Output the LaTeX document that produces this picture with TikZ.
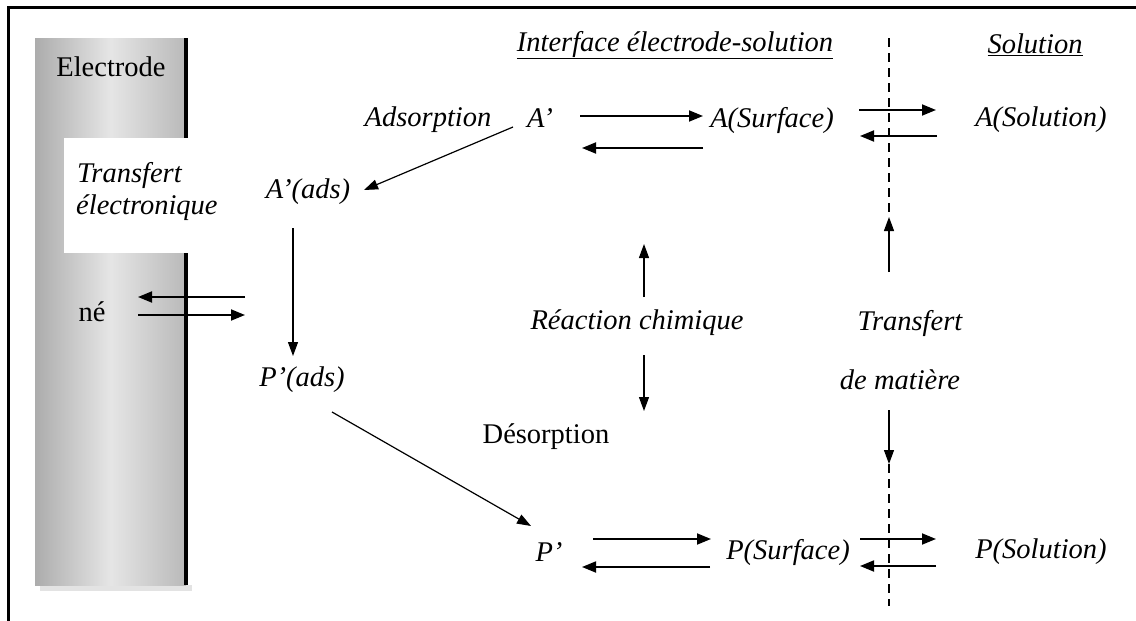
\documentclass[tikz,border=0pt]{standalone}
\usepackage{fontspec}
\setmainfont{Liberation Serif}
\usetikzlibrary{arrows.meta}
\begin{document}
\begin{tikzpicture}[x=1pt,y=-1pt,
  txt/.style={font=\fontsize{28.5}{32}\selectfont\itshape, inner sep=0pt},
  rtxt/.style={font=\fontsize{28.5}{32}\selectfont, inner sep=0pt},
  arr/.style={line width=1.8pt, -{Triangle[length=14pt,width=11pt]}},
  thinarr/.style={line width=1.2pt, -{Triangle[length=14pt,width=10pt]}},
  dashline/.style={line width=1.6pt, dash pattern=on 9pt off 6pt}
]
\useasboundingbox (0,0) rectangle (1136,621);
\fill[white] (0,0) rectangle (1136,621);
% outer frame
\draw[line width=3pt] (8,621) -- (8,7) -- (1137,7);
% electrode
\fill[gray!22] (40,585) rectangle (192,591);
\shade[left color=gray!65, right color=gray!55, middle color=gray!20] (35,38) rectangle (186,585);
\draw[line width=4pt] (186,38) -- (186,585);
\fill[white] (64,138) rectangle (252,253);

% texts
\node[rtxt] (electrode) at (111,67) {Electrode};
\node[txt, anchor=west] (tr1) at (77,175) {Transfert};
\node[txt, anchor=west] (tr2) at (76,208) {électronique};
\node[rtxt] (ne) at (92,312) {né};

\node[txt] (hint) at (675,45) {\underline{Interface électrode-solution}};
\node[txt] (hsol) at (1035,45) {\underline{Solution}};

\node[txt] (ads) at (428,120) {Adsorption};
\node[txt] (Ap) at (540,118) {A’};
\node[txt] (Asurf) at (772,120) {A(Surface)};
\node[txt] (Asol) at (1041,120) {A(Solution)};
\node[txt] (Aads) at (308,192) {A’(ads)};
\node[txt] (Pads) at (302,380) {P’(ads)};
\node[txt] (Pp) at (549,552) {P’};
\node[txt] (Psurf) at (788,552) {P(Surface)};
\node[txt] (Psol) at (1041,552) {P(Solution)};
\node[txt] (reac) at (637,323) {Réaction chimique};
\node[rtxt] (desorp) at (546,437) {Désorption};
\node[txt] (tm1) at (910,323) {Transfert};
\node[txt] (tm2) at (900,380) {de matière};

% coordinates
\coordinate (ne1) at (245,297); \coordinate (ne2) at (138,297);
\coordinate (ne3) at (138,315); \coordinate (ne4) at (245,315);
\coordinate (a1) at (580,116); \coordinate (a2) at (703,116);
\coordinate (a3) at (703,148); \coordinate (a4) at (582,148);
\coordinate (b1) at (859,110); \coordinate (b2) at (936,110);
\coordinate (b3) at (937,136); \coordinate (b4) at (860,136);
\coordinate (p1) at (593,539); \coordinate (p2) at (711,539);
\coordinate (p3) at (710,567); \coordinate (p4) at (582,567);
\coordinate (q1) at (860,539); \coordinate (q2) at (936,539);
\coordinate (q3) at (936,566); \coordinate (q4) at (860,566);
\coordinate (d1) at (513,127); \coordinate (d2) at (364,190);
\coordinate (v1) at (293,228); \coordinate (v2) at (293,356);
\coordinate (g1) at (332,412); \coordinate (g2) at (531,526);
\coordinate (r1) at (644,297); \coordinate (r2) at (644,244);
\coordinate (r3) at (644,355); \coordinate (r4) at (644,411);
\coordinate (t1) at (889,272); \coordinate (t2) at (889,217);
\coordinate (t3) at (889,410); \coordinate (t4) at (889,464);
\coordinate (s1) at (889,38); \coordinate (s2) at (889,215);
\coordinate (s3) at (889,464); \coordinate (s4) at (889,606);

% dashed boundary
\draw[dashline] (s1) -- (s2);
\draw[dashline] (s3) -- (s4);

% arrows
\draw[arr] (ne1) -- (ne2);
\draw[arr] (ne3) -- (ne4);
\draw[arr] (a1) -- (a2);
\draw[arr] (a3) -- (a4);
\draw[arr] (b1) -- (b2);
\draw[arr] (b3) -- (b4);
\draw[arr] (p1) -- (p2);
\draw[arr] (p3) -- (p4);
\draw[arr] (q1) -- (q2);
\draw[arr] (q3) -- (q4);
\draw[thinarr] (d1) -- (d2);
\draw[thinarr] (v1) -- (v2);
\draw[thinarr] (g1) -- (g2);
\draw[thinarr] (r1) -- (r2);
\draw[thinarr] (r3) -- (r4);
\draw[thinarr] (t1) -- (t2);
\draw[thinarr] (t3) -- (t4);
\end{tikzpicture}
\end{document}
